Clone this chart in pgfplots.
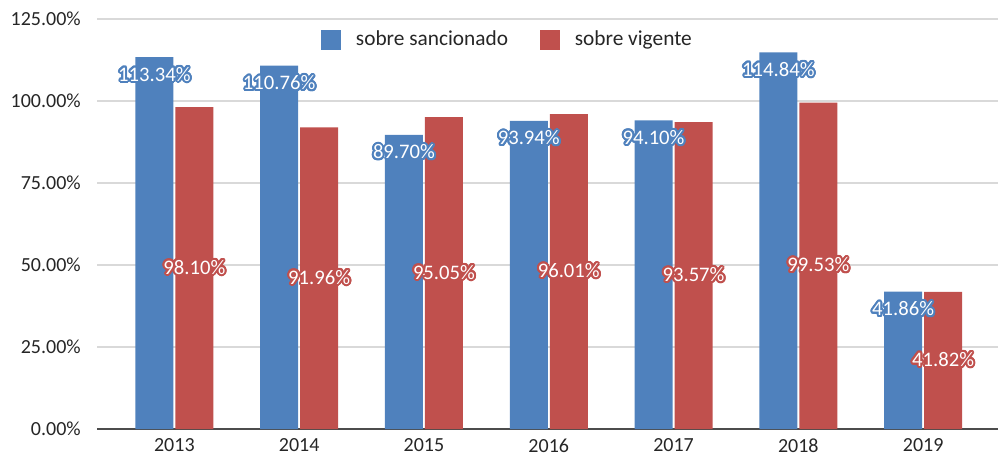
\documentclass[border=0pt]{standalone}
\usepackage{fontspec}
\setmainfont{Carlito}
\usepackage{pgfplots}
\pgfplotsset{compat=1.18}
\usepackage[copies]{contour}
\contourlength{1.5pt}
\contournumber{24}
\definecolor{barblue}{HTML}{4F81BD}
\definecolor{barred}{HTML}{C0504D}
\definecolor{gridgray}{HTML}{D9D9D9}
\definecolor{txt}{HTML}{262626}

\begin{document}
\fontsize{15}{18}\selectfont
\begin{tikzpicture}
\begin{axis}[
    scale only axis,
    width=675.75pt, height=307.5pt,
    ymin=0, ymax=125,
    ytick={0,25,...,125},
    xmin=-0.62, xmax=6.6,
    xtick=data,
    xticklabels={2013,2014,2015,2016,2017,2018,2019},
    /pgf/number format/assume math mode=true,
    yticklabel={\pgfmathprintnumber[fixed,fixed zerofill,precision=2]{\tick}\%},
    ticklabel style={font=\fontsize{15}{18}\selectfont, text=txt},
    yticklabel style={xshift=-7pt},
    xticklabel style={yshift=-2pt},
    major tick length=0pt,
    ymajorgrids,
    grid style={gridgray, line width=0.9pt},
    axis x line*=bottom,
    axis y line*=left,
    x axis line style={draw=black!70, line width=0.9pt, -},
    y axis line style={draw=none},
    ybar,
    bar width=28.5pt,
    legend style={at={(0.456,0.949)}, anchor=center, draw=none, fill=none,
        legend columns=2, font=\fontsize{16}{18}\selectfont, text=txt,
        /tikz/every odd column/.append style={column sep=9pt},
        /tikz/every even column/.append style={column sep=22pt}},
    legend image code/.code={\fill[#1] (0pt,-7.5pt) rectangle (15pt,7.5pt);},
]
\addplot[fill=barblue, draw=none, bar shift=-15pt,
    nodes near coords={\contour{barblue}{\pgfmathprintnumber[fixed,fixed zerofill,precision=2]{\pgfplotspointmeta}\%}},
    every node near coord/.append style={text=white, anchor=center, yshift=-13.5pt, font=\fontsize{15.5}{18}\selectfont}]
    coordinates {(0,113.34) (1,110.76) (2,89.70) (3,93.94) (4,94.10) (5,114.84) (6,41.86)};
\addplot[fill=barred, draw=none, bar shift=15pt,
    visualization depends on={y/2 \as \half},
    nodes near coords={\contour{barred}{\pgfmathprintnumber[fixed,fixed zerofill,precision=2]{\pgfplotspointmeta}\%}},
    every node near coord/.append style={text=white, anchor=center, shift={(axis direction cs:0,-\half)}, font=\fontsize{15.5}{18}\selectfont}]
    coordinates {(0,98.10) (1,91.96) (2,95.05) (3,96.01) (4,93.57) (5,99.53) (6,41.82)};
\legend{sobre sancionado, sobre vigente}
\end{axis}
\pgfresetboundingbox
\path (-72.75pt,-23.25pt) rectangle (675.75pt,321.75pt);
\end{tikzpicture}
\end{document}
